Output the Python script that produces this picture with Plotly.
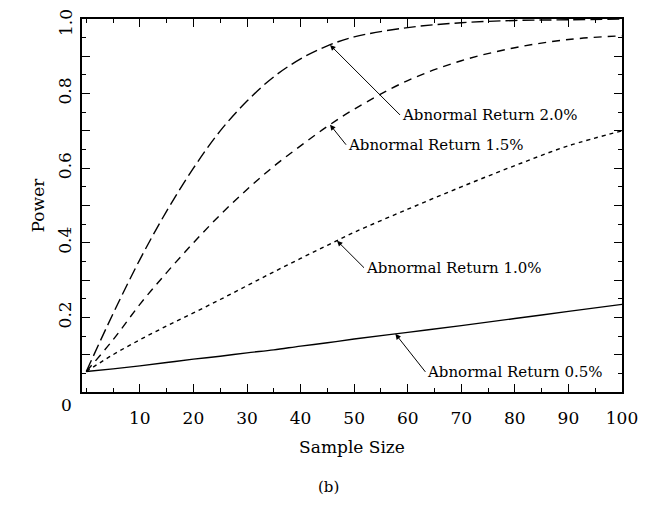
import numpy as np
import plotly.graph_objects as go

# ---- data ----
sample_size = [0, 5, 10, 15, 20, 25, 30, 35, 40, 45, 50, 60, 70, 80, 90, 100]
power_2_0 = [0.055, 0.21, 0.355, 0.485, 0.60, 0.70, 0.78, 0.845, 0.893, 0.928, 0.952, 0.977, 0.99, 0.996, 0.998, 1.0]
power_1_5 = [0.055, 0.14, 0.235, 0.32, 0.40, 0.475, 0.543, 0.605, 0.66, 0.712, 0.758, 0.835, 0.888, 0.923, 0.945, 0.955]
power_1_0 = [0.055, 0.10, 0.14, 0.177, 0.212, 0.248, 0.285, 0.322, 0.358, 0.393, 0.428, 0.49, 0.55, 0.607, 0.66, 0.70]
power_0_5 = [0.055, 0.062, 0.07, 0.079, 0.088, 0.096, 0.105, 0.113, 0.123, 0.132, 0.142, 0.16, 0.178, 0.197, 0.216, 0.235]

series_names = ["Abnormal Return 2.0%", "Abnormal Return 1.5%", "Abnormal Return 1.0%", "Abnormal Return 0.5%"]
label_at = [45.5, 45.5, 46.8, 57.7]   # sample size where each arrow points

x_tickvals = [10, 20, 30, 40, 50, 60, 70, 80, 90, 100]
x_ticktext = ["10", "20", "30", "40", "50", "60", "70", "80", "90", "100"]
y_tickvals = [0.1, 0.2, 0.3, 0.4, 0.5, 0.6, 0.7, 0.8, 0.9, 1.0]
y_ticktext = ["", "0.2", "", "0.4", "", "0.6", "", "0.8", "", ""]
y_top_label = "1.0"   # drawn separately so it stays inside the page

FONT = "DejaVu Serif"
series = [power_2_0, power_1_5, power_1_0, power_0_5]
dashes = ["12px,5px", "8px,6px", "4px,4px", "solid"]

# page has an 8px body margin; figure size chosen to fit the window
OFF = 8
FW, FH = 633, 490
# plot area in page pixels
L, R, T, B = 82, 622, 19, 392
W, H = R - L, B - T

fig = go.Figure()
for name, ys, d in zip(series_names, series, dashes):
    fig.add_trace(go.Scatter(x=sample_size, y=ys, mode="lines", name=name,
                             line=dict(color="black", width=1.4, dash=d, shape="spline", smoothing=1.0)))

# arrow annotations: (ax, ay) pixel offsets of text from arrow tip
offsets = [(70, 70), (16, 20), (27, 27), (30, 38)]
for name, ys, xs, (ax, ay) in zip(series_names, series, label_at, offsets):
    yv = float(np.interp(xs, sample_size, ys))
    fig.add_annotation(x=xs, y=yv, xref="x", yref="y", text=name,
                       showarrow=True, ax=ax, ay=ay, axref="pixel", ayref="pixel",
                       xanchor="left", yanchor="middle",
                       arrowhead=2, arrowsize=1.1, arrowwidth=1, arrowcolor="black",
                       font=dict(family=FONT, size=15, color="black"))

fig.add_annotation(x=(66 - L) / W, y=(B - 405) / H, xref="paper", yref="paper", text="0",
                   xanchor="center", yanchor="middle",
                   showarrow=False, font=dict(family=FONT, size=17, color="black"))
fig.add_annotation(x=(66 - L) / W, y=(B - 23) / H, xref="paper", yref="paper", text=y_top_label,
                   xanchor="center", yanchor="middle", textangle=-90,
                   showarrow=False, font=dict(family=FONT, size=17, color="black"))
fig.add_annotation(x=(328 - L) / W, y=(B - 487) / H, xref="paper", yref="paper", text="(b)",
                   xanchor="center", yanchor="middle",
                   showarrow=False, font=dict(family=FONT, size=15, color="black"))

fig.update_layout(
    width=FW, height=FH,
    margin=dict(l=L - OFF, r=FW - (R - OFF), t=T - OFF, b=FH - (B - OFF), autoexpand=False),
    paper_bgcolor="white", plot_bgcolor="white",
    showlegend=False,
    font=dict(family=FONT, size=17, color="black"),
)

fig.update_xaxes(range=[-0.8, 100], tickvals=x_tickvals, ticktext=x_ticktext, automargin=False,
                 showline=True, linecolor="black", linewidth=2, mirror="ticks",
                 ticks="inside", ticklen=8, tickwidth=1.2, tickcolor="black",
                 minor=dict(ticks="inside", dtick=5, tick0=0, ticklen=4, tickwidth=1, tickcolor="black"),
                 showgrid=False, zeroline=False, ticklabelstandoff=10, ticklabeloverflow="allow",
                 tickfont=dict(family=FONT, size=17),
                 title=dict(text="Sample Size", font=dict(family=FONT, size=17), standoff=14))
fig.update_yaxes(range=[0, 1.0], tickvals=y_tickvals, ticktext=y_ticktext, tickangle=-90, automargin=False,
                 showline=True, linecolor="black", linewidth=2, mirror="ticks",
                 ticks="inside", ticklen=8, tickwidth=1.2, tickcolor="black",
                 minor=dict(ticks="inside", dtick=0.05, tick0=0, ticklen=4, tickwidth=1, tickcolor="black"),
                 showgrid=False, zeroline=False, ticklabelstandoff=2, ticklabeloverflow="allow",
                 tickfont=dict(family=FONT, size=17),
                 title=dict(text="Power", font=dict(family=FONT, size=17), standoff=6))

fig.write_html("out.html")
